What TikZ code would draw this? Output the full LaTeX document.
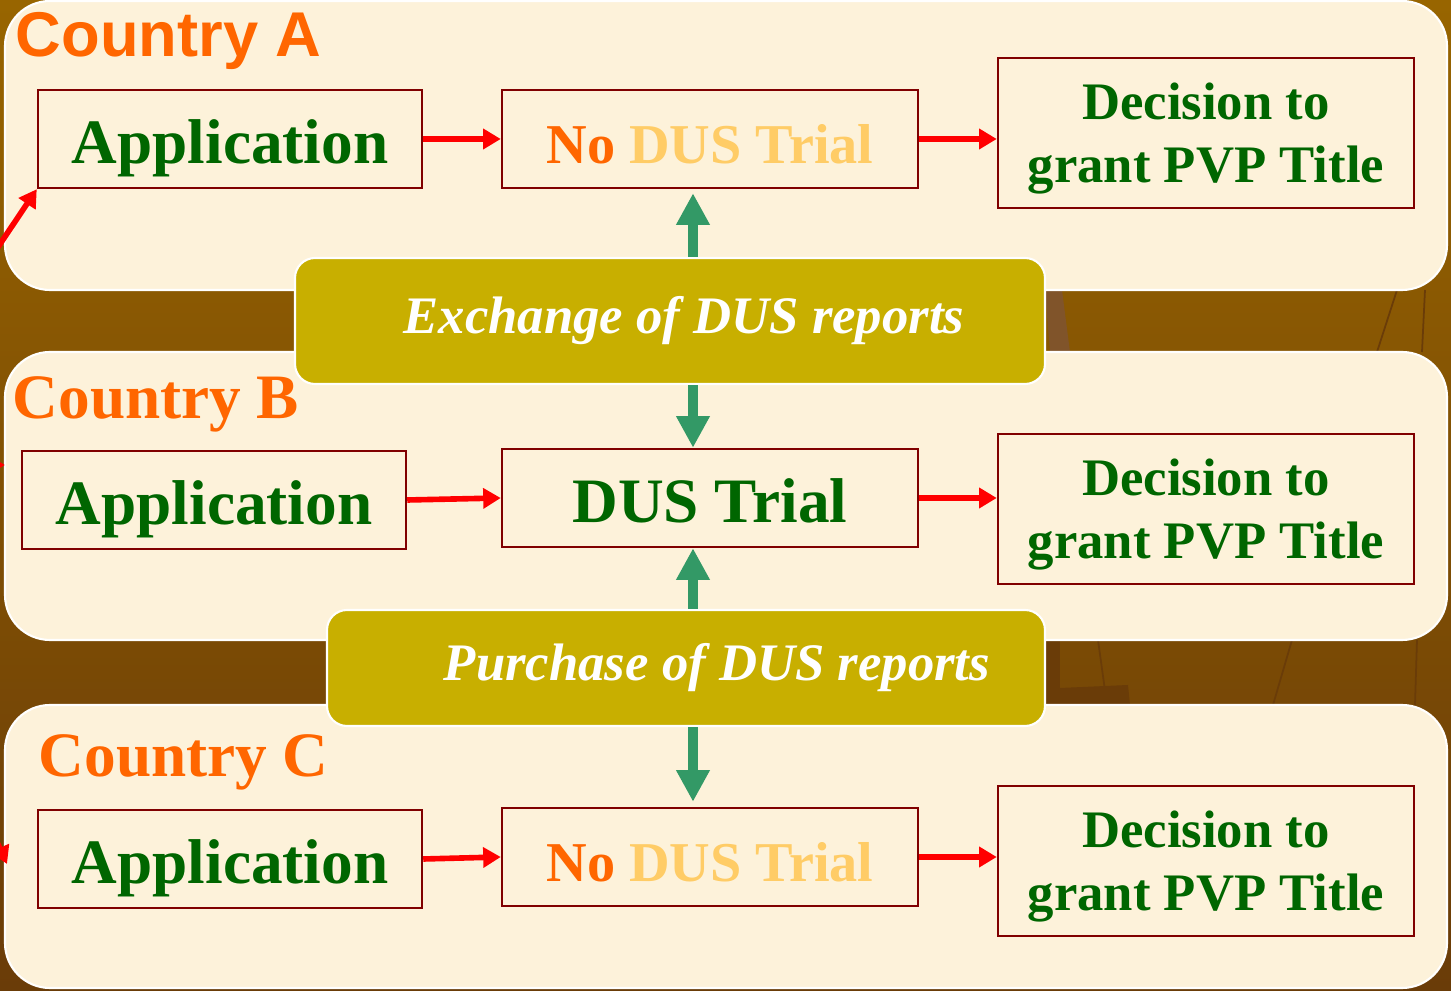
\documentclass[tikz,border=0pt]{standalone}
\usepackage{fontspec}
\setmainfont{Liberation Serif}
\newfontfamily\arialfont{Liberation Sans}
\usetikzlibrary{arrows.meta,calc}
\definecolor{pvpbrown}{RGB}{152,101,0}
\definecolor{pvpdeep}{RGB}{106,60,8}
\definecolor{pvpwood}{RGB}{128,84,42}
\definecolor{pvpcream}{RGB}{253,242,218}
\definecolor{pvpgold}{RGB}{200,175,0}
\definecolor{pvpgreen}{RGB}{0,102,0}
\definecolor{pvporange}{RGB}{255,102,0}
\definecolor{pvppeach}{RGB}{255,204,102}
\definecolor{pvpmaroon}{RGB}{128,0,0}
\definecolor{pvpteal}{RGB}{51,153,102}

\begin{document}
\begin{tikzpicture}[
  panel/.style={draw=white,line width=0.6pt,fill=pvpcream,rounded corners=0.45cm},
  band/.style={draw=white,line width=0.6pt,fill=pvpgold,rounded corners=0.2cm,text=white,font=\fontsize{15}{18}\selectfont\bfseries\itshape},
  stage/.style={draw=pvpmaroon,line width=0.7pt,inner sep=0pt,minimum height=0.98cm,text height=13.8pt,text depth=0pt,text=pvpgreen,font=\fontsize{18}{21}\selectfont\bfseries},
  verdict/.style={draw=pvpmaroon,line width=0.7pt,inner sep=0pt,minimum width=4.16cm,minimum height=1.5cm,text depth=0pt,align=center,text=pvpgreen,font=\fontsize{15}{18}\selectfont\bfseries},
  country/.style={anchor=base west,inner sep=0pt,text=pvporange,font=\fontsize{18}{21}\selectfont\bfseries},
  flow/.style={draw=red,line width=1.6pt,-{Triangle[length=5pt,width=5.6pt]}},
  report/.style={draw=pvpteal,line width=2.8pt,-{Triangle[length=9pt,width=9pt]}},
  crack/.style={draw=pvpdeep,line width=0.5pt}
]
  \useasboundingbox (0,0) rectangle (14.51,-9.91);
  \shade[top color=pvpbrown,bottom color=pvpdeep] (0,0) rectangle (14.51,-9.91);
  \fill[pvpwood] (10.45,-2.9)--(10.62,-2.9)--(10.70,-3.52)--(10.50,-3.52)--cycle;
  \draw[crack] (13.97,-2.9)--(13.77,-3.52);
  \draw[crack] (14.25,-2.9)--(14.22,-3.52);
  \fill[pvpdeep] (10.45,-6.4)--(10.60,-6.4)--(10.60,-7.05)--(10.45,-7.05)--cycle;
  \fill[pvpdeep] (10.60,-6.88)--(11.28,-6.85)--(11.30,-7.05)--(10.60,-7.05)--cycle;
  \draw[crack] (10.98,-6.4)--(11.07,-7.05);
  \draw[crack] (12.92,-6.4)--(12.73,-7.05);
  \draw[crack] (14.17,-6.4)--(14.15,-7.05);

  \draw[panel] (0.05,-0.01) rectangle (14.47,-2.90);
  \draw[panel] (0.05,-3.52) rectangle (14.47,-6.40);
  \draw[panel] (0.05,-7.05) rectangle (14.47,-9.88);

  \node[country,font=\arialfont\fontsize{18}{21}\selectfont\bfseries] (nameA) at (0.15,-0.57) {Country A};
  \node[country] (nameB) at (0.12,-4.19) {Country B};
  \node[country] (nameC) at (0.38,-7.77) {Country C};

  \node[stage,minimum width=3.84cm] (appA) at (2.30,-1.39) {Application};
  \node[stage,minimum width=4.16cm,text height=14.2pt,font=\fontsize{16}{19}\selectfont\bfseries] (trialA) at (7.10,-1.39) {\textcolor{pvporange}{No} \textcolor{pvppeach}{DUS Trial}};
  \node[verdict] (titleA) at (12.06,-1.33) {Decision to\\grant PVP Title};

  \node[stage,minimum width=3.84cm] (appB) at (2.14,-5.00) {Application};
  \node[stage,minimum width=4.16cm] (trialB) at (7.10,-4.98) {DUS Trial};
  \node[verdict] (titleB) at (12.06,-5.09) {Decision to\\grant PVP Title};

  \node[stage,minimum width=3.84cm] (appC) at (2.30,-8.59) {Application};
  \node[stage,minimum width=4.16cm,text height=14.2pt,font=\fontsize{16}{19}\selectfont\bfseries] (trialC) at (7.10,-8.57) {\textcolor{pvporange}{No} \textcolor{pvppeach}{DUS Trial}};
  \node[verdict] (titleC) at (12.06,-8.61) {Decision to\\grant PVP Title};

  \node[band,minimum width=7.50cm,minimum height=1.26cm] (swap) at (6.70,-3.21) {\hspace*{0.28cm}Exchange of DUS reports};
  \node[band,minimum width=7.18cm,minimum height=1.16cm] (buy) at (6.86,-6.68) {\hspace*{0.62cm}Purchase of DUS reports};

  \draw[flow] (appA.east)--(trialA.west);
  \draw[flow] (trialA.east)--(trialA.east -| titleA.west);
  \draw[flow] (appB.east)--(trialB.west);
  \draw[flow] (trialB.east)--(trialB.east -| titleB.west);
  \draw[flow] (appC.east)--(trialC.west);
  \draw[flow] (trialC.east)--(trialC.east -| titleC.west);

  \coordinate (fromA) at (-0.12,-2.62);
  \coordinate (fromB) at (-0.50,-4.65);
  \coordinate (toB) at (0.05,-4.65);
  \coordinate (fromC) at (-0.20,-8.05);
  \coordinate (toC) at (0.07,-8.64);
  \draw[flow] (fromA)--(appA.south west);
  \draw[flow] (fromB)--(toB);
  \draw[flow] (fromC)--(toC);

  \coordinate (axis) at (6.93,0);
  \draw[report] (axis |- swap.north)--([yshift=-0.04cm]axis |- trialA.south);
  \draw[report] (axis |- swap.south)--(axis |- trialB.north);
  \draw[report] (axis |- buy.north)--(axis |- trialB.south);
  \draw[report] (axis |- buy.south)--([yshift=0.05cm]axis |- trialC.north);
\end{tikzpicture}
\end{document}
